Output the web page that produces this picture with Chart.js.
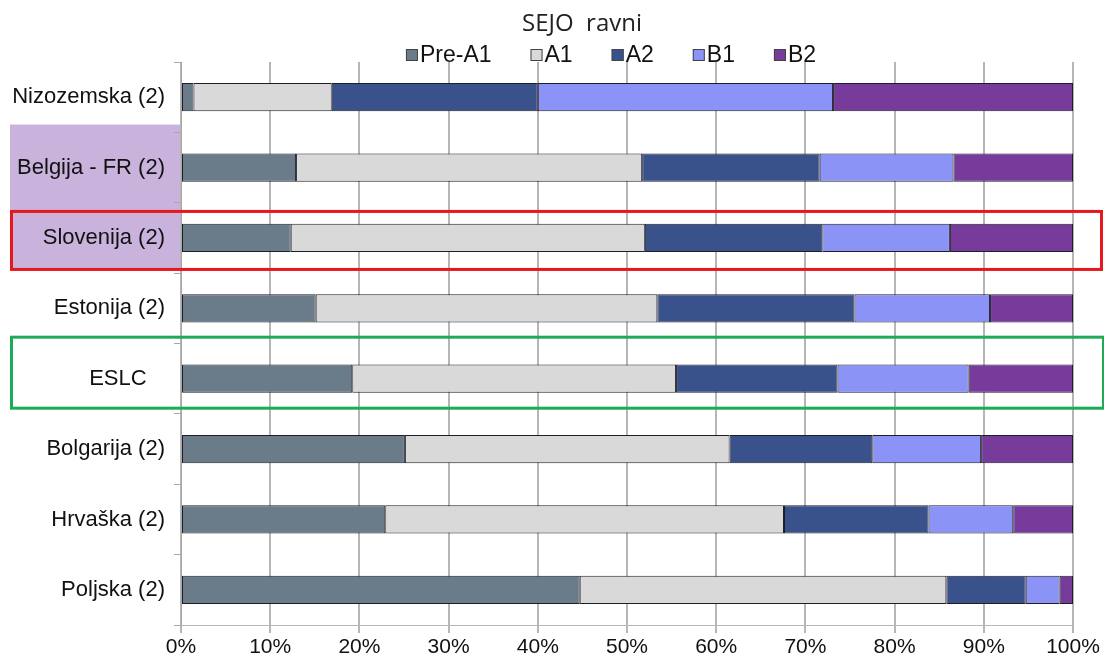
<!DOCTYPE html>
<html>
<head>
<meta charset="utf-8">
<script src="https://cdn.jsdelivr.net/npm/chart.js@4/dist/chart.umd.min.js"></script>
<style>
  html, body { margin: 0; padding: 0; background: #ffffff; }
  #wrap { width: 1104px; height: 660px; position: relative; }
</style>
</head>
<body>
<div id="wrap"><canvas id="c" width="1104" height="660"></canvas></div>
<script>
// Shares of pupils per SEJO level (percent of each country's sample)
const categories = ['Nizozemska (2)', 'Belgija - FR (2)', 'Slovenija (2)', 'Estonija (2)', 'ESLC   ', 'Bolgarija (2)', 'Hrvaška (2)', 'Poljska (2)'];
const levelNames = ['Pre-A1', 'A1', 'A2', 'B1', 'B2'];
const preA1 = [1.4, 12.9, 12.3, 15.1, 19.2, 25.1, 22.9, 44.7];
const a1    = [15.5, 38.8, 39.7, 38.3, 36.3, 36.4, 44.7, 41.1];
const a2    = [23.1, 19.9, 19.9, 22.1, 18.1, 16.0, 16.2, 8.9];
const b1    = [33.1, 15.0, 14.3, 15.2, 14.7, 12.2, 9.5, 3.8];
const b2    = [26.9, 13.4, 13.8, 9.3, 11.7, 10.3, 6.7, 1.5];
const tickLabels = ['0%', '10%', '20%', '30%', '40%', '50%', '60%', '70%', '80%', '90%', '100%'];
const chartTitle = 'SEJO  ravni';

const levelColors = ['#6a7c8a', '#d9d9d9', '#3a528c', '#8b93f7', '#763b9b'];
const seriesValues = [preA1, a1, a2, b1, b2];

const FONT = "'Liberation Sans', Arial, sans-serif";

// Title, legend and highlight frames
const decorations = {
  id: 'decorations',
  beforeDraw(chart) {
    const { ctx, chartArea, scales } = chart;
    const y = scales.y;
    // shaded block behind the Belgija / Slovenija labels
    const top = y.getPixelForValue(1) - 43;
    const bottom = y.getPixelForValue(2) + 32;
    ctx.save();
    ctx.fillStyle = '#c9b2dc';
    ctx.fillRect(10, top, chartArea.left - 11, bottom - top);
    ctx.restore();
  },
  afterDraw(chart) {
    const { ctx, scales } = chart;
    const y = scales.y;
    ctx.save();
    // title
    ctx.fillStyle = '#222';
    ctx.font = "24px 'Open Sans', sans-serif";
    ctx.textAlign = 'center';
    ctx.textBaseline = 'middle';
    ctx.fillText(chartTitle, 582, 24);

    // legend
    ctx.font = '23px ' + FONT;
    ctx.textAlign = 'left';
    const box = 12, gapBox = 2, gapItem = 39;
    const widths = chart.data.datasets.map(d => box + gapBox + ctx.measureText(d.label).width);
    const total = widths.reduce((s, w) => s + w, 0) + gapItem * (widths.length - 1);
    let x = 611 - total / 2;
    const ly = 55;
    chart.data.datasets.forEach((d, i) => {
      ctx.fillStyle = d.backgroundColor;
      ctx.fillRect(x, ly - box / 2, box, box);
      ctx.strokeStyle = '#444';
      ctx.lineWidth = 1;
      ctx.strokeRect(x + 0.5, ly - box / 2 + 0.5, box - 1, box - 1);
      ctx.fillStyle = '#111';
      ctx.fillText(d.label, x + box + gapBox, ly + 1);
      x += widths[i] + gapItem;
    });

    // highlight frames around Slovenija and ESLC rows
    ctx.lineWidth = 3;
    const sc = y.getPixelForValue(2);
    ctx.strokeStyle = '#e8161d';
    ctx.strokeRect(11.5, sc - 26.5, 1090, 58);
    const ec = y.getPixelForValue(4);
    ctx.strokeStyle = '#1dab57';
    ctx.strokeRect(11.5, ec - 41.5, 1092, 71);
    ctx.restore();
  }
};

new Chart(document.getElementById('c'), {
  type: 'bar',
  data: {
    labels: categories,
    datasets: levelNames.map((name, i) => ({
      label: name,
      data: seriesValues[i],
      backgroundColor: levelColors[i],
      borderColor: '#1e1e28',
      borderWidth: 1,
      borderSkipped: false,
      categoryPercentage: 1,
      barPercentage: 0.4
    }))
  },
  options: {
    indexAxis: 'y',
    responsive: false,
    animation: false,
    layout: { padding: { top: 62, right: 31, bottom: 0, left: 0 } },
    plugins: {
      legend: { display: false },
      title: { display: false },
      tooltip: { enabled: false }
    },
    scales: {
      x: {
        stacked: true,
        min: 0,
        max: 100,
        ticks: {
          stepSize: 10,
          padding: 2,
          color: '#111',
          font: { family: FONT, size: 21 },
          maxRotation: 0,
          callback: (v, i) => tickLabels[i]
        },
        grid: { color: '#b6b6b6', lineWidth: 2, tickLength: 8 },
        border: { display: true, color: '#b6b6b6', width: 1 },
        afterFit(scale) { scale.height = 35; }
      },
      y: {
        stacked: true,
        ticks: {
          padding: 9,
          color: '#111',
          font: { family: FONT, size: 22 }
        },
        grid: { display: true, drawOnChartArea: false, drawTicks: true, tickLength: 7, color: '#a8a8a8' },
        border: { display: true, color: '#a8a8a8', width: 1 },
        afterFit(scale) { scale.width = 181; }
      }
    }
  },
  plugins: [decorations]
});
</script>
</body>
</html>
